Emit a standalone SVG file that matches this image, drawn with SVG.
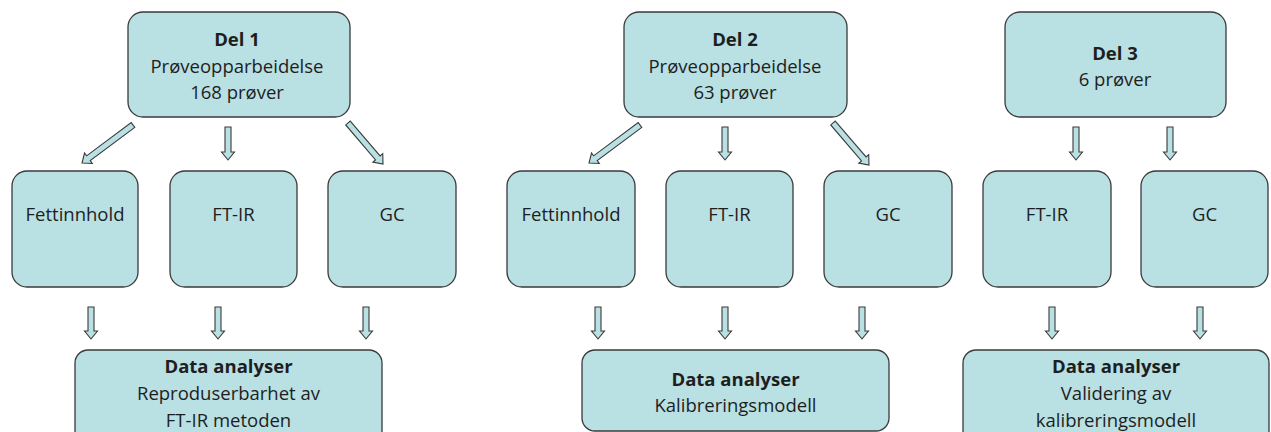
<svg xmlns="http://www.w3.org/2000/svg" width="1271" height="432" viewBox="0 0 1271 432">
<style>
.box{fill:#b9e0e3;stroke:#3a3a3a;stroke-width:1.3}
.arr{fill:#b9e0e3;stroke:#3a3a3a;stroke-width:1.1;stroke-linejoin:miter}
text{font-family:"Open Sans","Noto Sans","Liberation Sans",sans-serif;font-size:18.5px;fill:#1e1e1e;text-anchor:middle}
.b{font-weight:bold}
</style>
<rect width="1271" height="432" fill="#ffffff"/>
<g id="del1"><rect class="box" x="128" y="12" width="222" height="105" rx="15"/><text x="237" y="46" class="b">Del 1</text><text x="237" y="73">Prøveopparbeidelse</text><text x="237" y="99">168 prøver</text></g>
<g id="del2"><rect class="box" x="624" y="12" width="223" height="105" rx="15"/><text x="735" y="46" class="b">Del 2</text><text x="735" y="73">Prøveopparbeidelse</text><text x="735" y="99">63 prøver</text></g>
<g id="del3"><rect class="box" x="1005" y="12" width="221" height="105" rx="15"/><text x="1115" y="60" class="b">Del 3</text><text x="1115" y="86">6 prøver</text></g>
<g id="fett1"><rect class="box" x="12" y="171" width="126" height="116" rx="15"/><text x="75" y="221">Fettinnhold</text></g>
<g id="ftir1"><rect class="box" x="170" y="171" width="127" height="116" rx="15"/><text x="233.5" y="221">FT-IR</text></g>
<g id="gc1"><rect class="box" x="328" y="171" width="128" height="116" rx="15"/><text x="392" y="221">GC</text></g>
<g id="fett2"><rect class="box" x="507" y="171" width="128" height="116" rx="15"/><text x="571" y="221">Fettinnhold</text></g>
<g id="ftir2"><rect class="box" x="666" y="171" width="127" height="116" rx="15"/><text x="729.5" y="221">FT-IR</text></g>
<g id="gc2"><rect class="box" x="824" y="171" width="128" height="116" rx="15"/><text x="888" y="221">GC</text></g>
<g id="ftir3"><rect class="box" x="983" y="171" width="128" height="116" rx="15"/><text x="1047" y="221">FT-IR</text></g>
<g id="gc3"><rect class="box" x="1141" y="171" width="127" height="116" rx="15"/><text x="1204.5" y="221">GC</text></g>
<g id="data1"><rect class="box" x="75" y="350" width="307" height="95" rx="13"/><text x="228.5" y="373" class="b">Data analyser</text><text x="228.5" y="400">Reproduserbarhet av</text><text x="228.5" y="427">FT-IR metoden</text></g>
<g id="data2"><rect class="box" x="582" y="350" width="307" height="81" rx="13"/><text x="735.5" y="386" class="b">Data analyser</text><text x="735.5" y="412">Kalibreringsmodell</text></g>
<g id="data3"><rect class="box" x="963" y="350" width="306" height="95" rx="13"/><text x="1116" y="373" class="b">Data analyser</text><text x="1116" y="400">Validering av</text><text x="1116" y="427">kalibreringsmodell</text></g>
<g id="connectors">
<path class="arr" transform="translate(133,125) rotate(143.3)" d="M0,-3 H55.6 V-6.5 L63.6,0 L55.6,6.5 V3 H0 Z"/>
<path class="arr" transform="translate(348,123) rotate(49.5)" d="M0,-3 H45.9 V-6.5 L53.9,0 L45.9,6.5 V3 H0 Z"/>
<path class="arr" transform="translate(640,125) rotate(143.3)" d="M0,-3 H55.6 V-6.5 L63.6,0 L55.6,6.5 V3 H0 Z"/>
<path class="arr" transform="translate(833,123) rotate(49.4)" d="M0,-3 H47.3 V-6.5 L55.3,0 L47.3,6.5 V3 H0 Z"/>
<path class="arr" transform="translate(228,127)" d="M-3,0 H3 V25 H6.5 L0,33 L-6.5,25 H-3 Z"/>
<path class="arr" transform="translate(725,127)" d="M-3,0 H3 V25 H6.5 L0,33 L-6.5,25 H-3 Z"/>
<path class="arr" transform="translate(1076,127)" d="M-3,0 H3 V25 H6.5 L0,33 L-6.5,25 H-3 Z"/>
<path class="arr" transform="translate(1170,127)" d="M-3,0 H3 V25 H6.5 L0,33 L-6.5,25 H-3 Z"/>
<path class="arr" transform="translate(91,307)" d="M-3,0 H3 V24 H6.5 L0,32 L-6.5,24 H-3 Z"/>
<path class="arr" transform="translate(218,307)" d="M-3,0 H3 V24 H6.5 L0,32 L-6.5,24 H-3 Z"/>
<path class="arr" transform="translate(366,307)" d="M-3,0 H3 V24 H6.5 L0,32 L-6.5,24 H-3 Z"/>
<path class="arr" transform="translate(598,307)" d="M-3,0 H3 V24 H6.5 L0,32 L-6.5,24 H-3 Z"/>
<path class="arr" transform="translate(725,307)" d="M-3,0 H3 V24 H6.5 L0,32 L-6.5,24 H-3 Z"/>
<path class="arr" transform="translate(862,307)" d="M-3,0 H3 V24 H6.5 L0,32 L-6.5,24 H-3 Z"/>
<path class="arr" transform="translate(1052,307)" d="M-3,0 H3 V24 H6.5 L0,32 L-6.5,24 H-3 Z"/>
<path class="arr" transform="translate(1200,307)" d="M-3,0 H3 V24 H6.5 L0,32 L-6.5,24 H-3 Z"/>
</g>
</svg>
